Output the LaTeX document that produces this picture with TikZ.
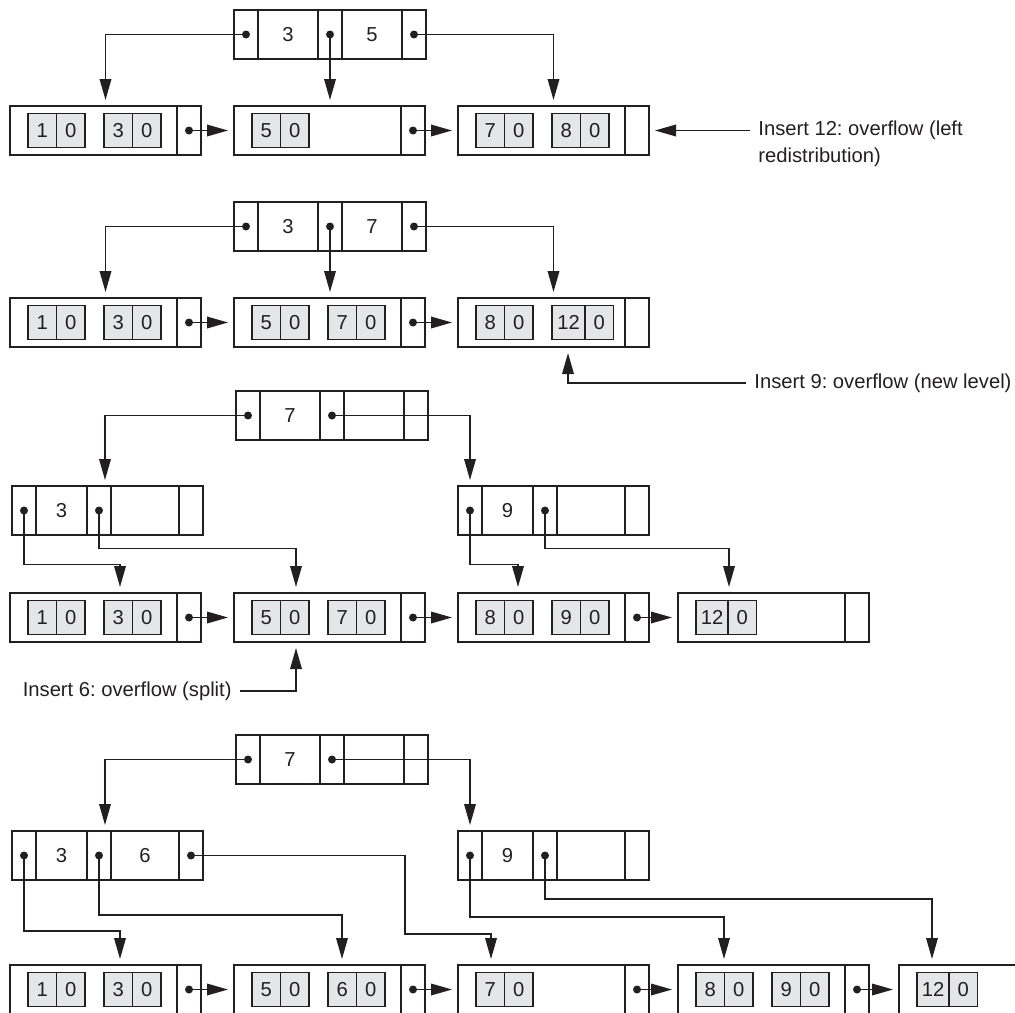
\documentclass[tikz,border=0pt]{standalone}
\usepackage{fontspec}
\setmainfont{Liberation Sans}
\usepackage{tikz}
\usetikzlibrary{arrows.meta,positioning}
\definecolor{ink}{RGB}{35,31,32}
\definecolor{keygray}{RGB}{229,230,231}
\frenchspacing

% index node: pointer, key, pointer, key, pointer
\newcommand{\indexnode}[6]{%
  \node[pcell, anchor=north west] (#1a) at #2 {};
  \node[kcell, minimum width=#5, right=0pt of #1a] (#1b) {#3};
  \node[pcell, right=0pt of #1b] (#1c) {};
  \node[kcell, minimum width=#6, right=0pt of #1c] (#1d) {#4};
  \node[pcell, right=0pt of #1d] (#1e) {};}
% leaf node with its next-leaf pointer cell
\newcommand{\leafnode}[2]{%
  \node[leaf, #2] (#1) {};
  \node[pcell, left=0pt of #1.east] (#1p) {};}
% grey key/record pair inside a leaf
\newcommand{\keypair}[4][14.25pt]{%
  \node[kl, minimum width=#1, right=#3 of #2.west] (#2k#4) {#4};
  \node[kl, right=0pt of #2k#4] (#2r#4) {0};}

\begin{document}
\begin{tikzpicture}[
  x=0.5pt, y=-0.5pt, ink,
  font=\fontsize{10.1}{13.5}\selectfont,
  cell/.style={draw=ink, line width=0.85pt, minimum height=24.5pt,
               inner sep=0pt, outer sep=0pt},
  pcell/.style={cell, minimum width=12pt},
  kcell/.style={cell},
  leaf/.style={cell, minimum width=95.5pt, anchor=north west},
  kl/.style={draw=ink, fill=keygray, line width=0.65pt, minimum width=14.25pt,
             minimum height=17pt, inner sep=0pt, outer sep=0pt},
  dot/.style={circle, fill=ink, inner sep=0pt, minimum size=4pt},
  arr/.style={-{Triangle[length=10.5pt,width=5.8pt]}, draw=ink, line width=0.75pt,
              shorten >=3pt},
  note/.style={inner sep=4pt},
]
\useasboundingbox (0,0) rectangle (1015,1012);

% Row 1
\indexnode{R1}{(234,10)}{3}{5}{30pt}{30pt}
\leafnode{L11}{at={(10,106)}}
\leafnode{L12}{right=16.5pt of L11}
\leafnode{L13}{right=16.5pt of L12}
\keypair{L11}{9pt}{1} \keypair{L11}{47pt}{3}
\keypair{L12}{9pt}{5}
\keypair{L13}{9pt}{7} \keypair{L13}{47pt}{8}
\node[note, right=50.5pt of L13.east] (T1) {Insert 12: overflow (left};
\node[note, anchor=base west] (T1b) at ([yshift=-13.5pt]T1.base west) {redistribution)};

\draw[arr] (R1a.center) node[dot] {} -| (L11.north);
\draw[arr] (R1c.center) node[dot] {} -- (R1c.center |- L12.north);
\draw[arr] (R1e.center) node[dot] {} -| (L13.north);
\draw[arr] (L11p.center) node[dot] {} -- (L12);
\draw[arr] (L12p.center) node[dot] {} -- (L13);
\draw[arr] (T1.west) -- (L13.east);

% Row 2
\indexnode{R2}{(234,202)}{3}{7}{30pt}{30pt}
\leafnode{L21}{at={(10,298)}}
\leafnode{L22}{right=16.5pt of L21}
\leafnode{L23}{right=16.5pt of L22}
\keypair{L21}{9pt}{1} \keypair{L21}{47pt}{3}
\keypair{L22}{9pt}{5} \keypair{L22}{47pt}{7}
\keypair{L23}{9pt}{8} \keypair[16.5pt]{L23}{47pt}{12}
\node[note, anchor=west] (T2) at (746,383) {Insert 9: overflow (new level)};

\draw[arr] (R2a.center) node[dot] {} -| (L21.north);
\draw[arr] (R2c.center) node[dot] {} -- (R2c.center |- L22.north);
\draw[arr] (R2e.center) node[dot] {} -| (L23.north);
\draw[arr] (L21p.center) node[dot] {} -- (L22);
\draw[arr] (L22p.center) node[dot] {} -- (L23);
\draw[arr] (T2.west) -| ([xshift=7.25pt]L23.south);

% Row 3
\indexnode{R3}{(236,391)}{7}{}{30pt}{30pt}
\indexnode{I31}{(12,486)}{3}{}{25.5pt}{34pt}
\indexnode{I32}{(458,486)}{9}{}{25.5pt}{34pt}
\leafnode{L31}{at={(10,593)}}
\leafnode{L32}{right=16.5pt of L31}
\leafnode{L33}{right=16.5pt of L32}
\leafnode{L34}{right=14.5pt of L33}
\keypair{L31}{9pt}{1} \keypair{L31}{47pt}{3}
\keypair{L32}{9pt}{5} \keypair{L32}{47pt}{7}
\keypair{L33}{9pt}{8} \keypair{L33}{47pt}{9}
\keypair[16pt]{L34}{9pt}{12}
\node[note, anchor=east] (T3) at (240,691) {Insert 6: overflow (split)};

\draw[arr] (R3a.center) node[dot] {} -| ([xshift=3pt]I31c.north);
\draw[arr] (R3c.center) node[dot] {} -| (I32a.north);
\draw[arr] (I31a.center) node[dot] {} -- ++(0,54) -| ([xshift=7.25pt]L31.north);
\draw[arr] (I31c.center) node[dot] {} -- ++(0,38) -| ([xshift=-16.75pt]L32.north);
\draw[arr] (I32a.center) node[dot] {} -- ++(0,54) -| ([xshift=-17.75pt]L33.north);
\draw[arr] (I32c.center) node[dot] {} -- ++(0,38) -| ([xshift=-22.25pt]L34.north);
\draw[arr] (L31p.center) node[dot] {} -- (L32);
\draw[arr] (L32p.center) node[dot] {} -- (L33);
\draw[arr] (L33p.center) node[dot] {} -- (L34);
\draw[arr] (T3.east) -| ([xshift=-16.75pt]L32.south);

% Row 4
\indexnode{R4}{(236,735)}{7}{}{30pt}{30pt}
\indexnode{I41}{(12,831)}{3}{6}{25.5pt}{34pt}
\indexnode{I42}{(458,831)}{9}{}{25.5pt}{34pt}
\leafnode{L41}{at={(10,965)}}
\leafnode{L42}{right=16.5pt of L41}
\leafnode{L43}{right=16.5pt of L42}
\leafnode{L44}{right=14.5pt of L43}
\leafnode{L45}{right=15pt of L44}
\keypair{L41}{9pt}{1} \keypair{L41}{47pt}{3}
\keypair{L42}{9pt}{5} \keypair{L42}{47pt}{6}
\keypair{L43}{9pt}{7}
\keypair{L44}{9pt}{8} \keypair{L44}{47pt}{9}
\keypair[16pt]{L45}{9pt}{12}

\draw[arr] (R4a.center) node[dot] {} -| ([xshift=3pt]I41c.north);
\draw[arr] (R4c.center) node[dot] {} -| (I42a.north);
\draw[arr] (I41a.center) node[dot] {} -- ++(0,75.5) -| ([xshift=7.25pt]L41.north);
\draw[arr] (I41c.center) node[dot] {} -- ++(0,59.5) -| ([xshift=6.25pt]L42.north);
\draw[arr] (I41e.center) node[dot] {} -- ++(214,0) -- ++(0,78.5) -| ([xshift=-31.25pt]L43.north);
\draw[arr] (I42a.center) node[dot] {} -- ++(0,61.5) -| ([xshift=-24.75pt]L44.north);
\draw[arr] (I42c.center) node[dot] {} -- ++(0,43.5) -| ([xshift=-31.25pt]L45.north);
\draw[arr] (L41p.center) node[dot] {} -- (L42);
\draw[arr] (L42p.center) node[dot] {} -- (L43);
\draw[arr] (L43p.center) node[dot] {} -- (L44);
\draw[arr] (L44p.center) node[dot] {} -- (L45);
\end{tikzpicture}
\end{document}
